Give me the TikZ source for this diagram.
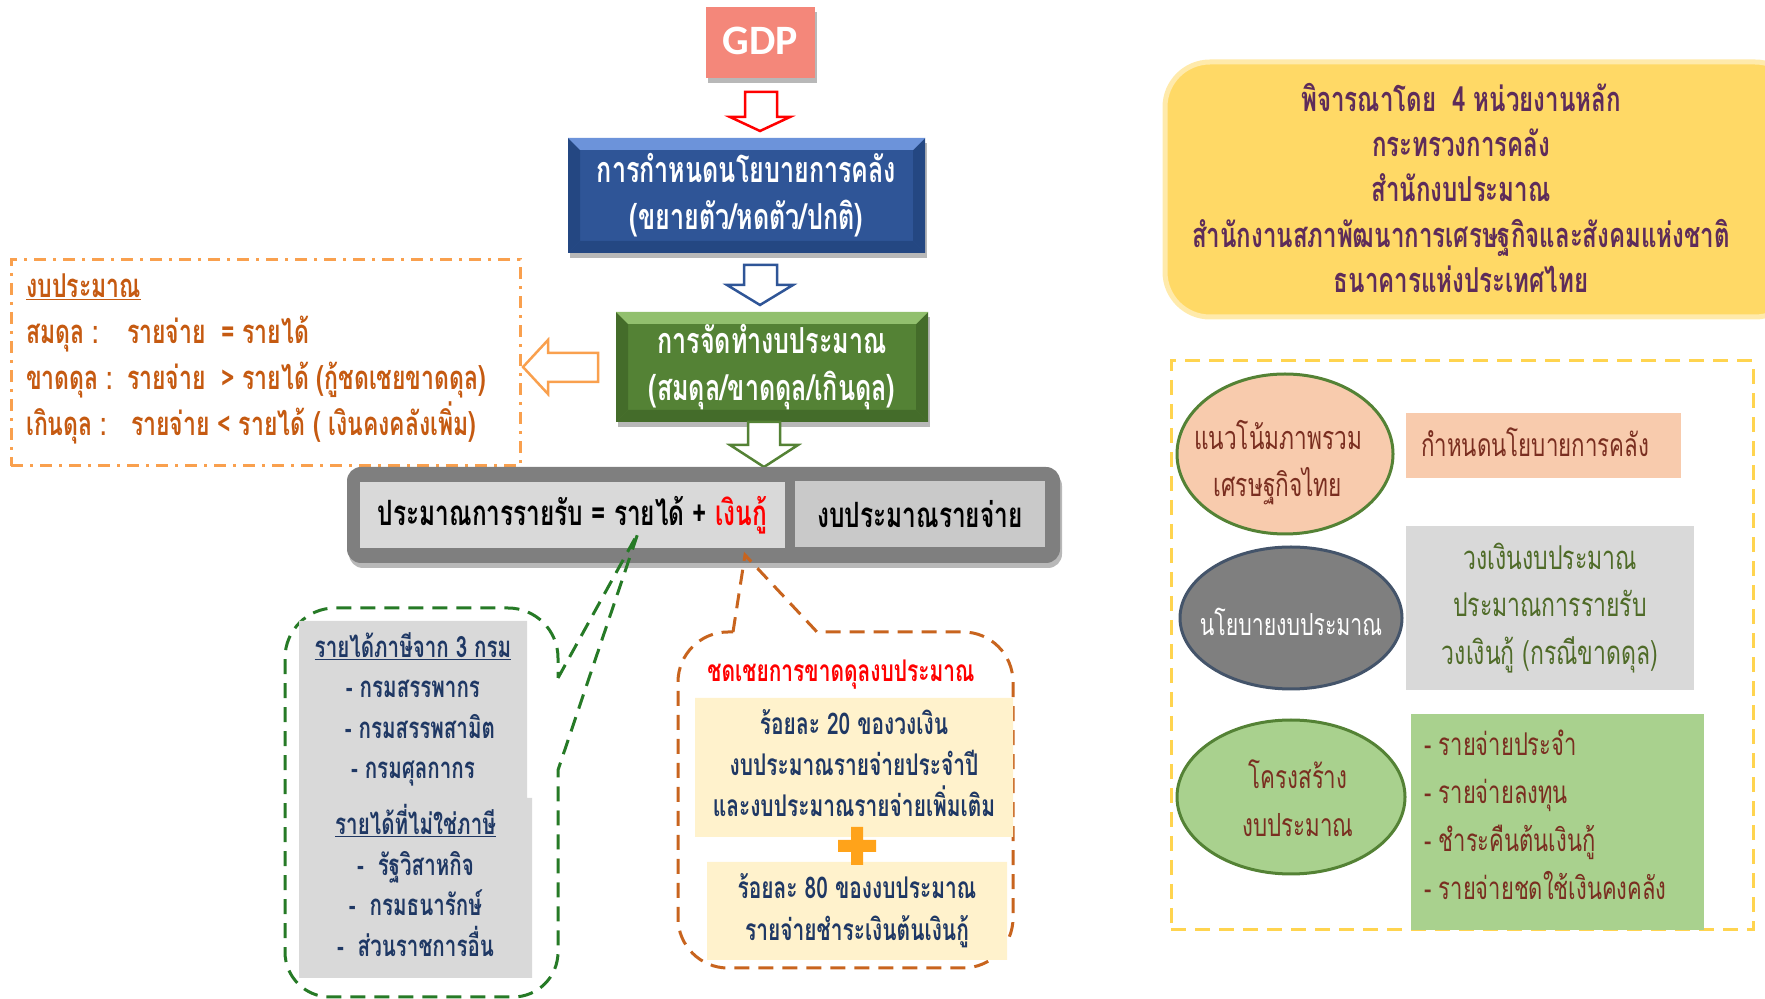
\documentclass[tikz,border=0pt]{standalone}
\usepackage{fontspec}
\newfontfamily\thaifont[Script=Thai,FakeStretch=0.7]{Loma}
\newfontfamily\latinfont{Carlito}
\usetikzlibrary{shapes.geometric,shadows}

\definecolor{gdpred}{HTML}{F4877A}
\definecolor{polblue}{HTML}{2F5597}
\definecolor{polbluelt}{HTML}{6C93DA}
\definecolor{polbluedk}{HTML}{244782}
\definecolor{budgreen}{HTML}{548235}
\definecolor{budgreenlt}{HTML}{92C06E}
\definecolor{budgreendk}{HTML}{446C2A}
\definecolor{barstone}{HTML}{7F7F7F}
\definecolor{cellgray}{HTML}{D9D9D9}
\definecolor{cellgraydk}{HTML}{C9C9C9}
\definecolor{rust}{HTML}{C55A11}
\definecolor{lightorange}{HTML}{F9A04E}
\definecolor{navy}{HTML}{1F3864}
\definecolor{callgreen}{HTML}{267A26}
\definecolor{callorange}{HTML}{C8641E}
\definecolor{cream}{HTML}{FFF2CC}
\definecolor{plusorange}{HTML}{FFA31A}
\definecolor{gold}{HTML}{FFD966}
\definecolor{golddash}{HTML}{FFD44F}
\definecolor{plum}{HTML}{5E2C5A}
\definecolor{peach}{HTML}{F8CBAD}
\definecolor{leaf}{HTML}{A9D18E}
\definecolor{slate}{HTML}{44546A}
\definecolor{maroon}{HTML}{7A2E20}
\definecolor{olive}{HTML}{4F6B28}

\tikzset{
  thai/.style 2 args={font=\thaifont\bfseries\fontsize{#1}{#2}\selectfont},
  thailt/.style 2 args={font=\thaifont\fontsize{#1}{#2}\selectfont},
  softshadow/.style={drop shadow={shadow xshift=2bp,shadow yshift=-5bp,opacity=.35,fill=black!80}},
  bevel/.style n args={3}{path picture={
    \fill[#2] (path picture bounding box.north west) -- ([shift={(#3,-#3)}]path picture bounding box.north west)
      -- ([shift={(#3,#3)}]path picture bounding box.south west) -- (path picture bounding box.south west) -- cycle;
    \fill[#2] (path picture bounding box.north east) -- ([shift={(-#3,-#3)}]path picture bounding box.north east)
      -- ([shift={(-#3,#3)}]path picture bounding box.south east) -- (path picture bounding box.south east) -- cycle;
    \fill[#2] (path picture bounding box.south west) -- (path picture bounding box.south east)
      -- ([shift={(-#3,#3)}]path picture bounding box.south east) -- ([shift={(#3,#3)}]path picture bounding box.south west) -- cycle;
    \fill[#1] (path picture bounding box.north west) -- (path picture bounding box.north east)
      -- ([shift={(-#3,-#3)}]path picture bounding box.north east) -- ([shift={(#3,-#3)}]path picture bounding box.north west) -- cycle;}},
  flowbox/.style={inner sep=0pt,text=white,align=center,softshadow,thai={36}{47}},
  cell/.style={inner sep=0pt,fill=cellgray,align=center},
  blockarrow/.style={line width=2.5bp,fill=white,line join=miter},
  dashline/.style={line width=3bp,dash pattern=on 15bp off 9bp},
  blob/.style={ellipse,line width=3bp,inner sep=0pt},
}

\begin{document}
\begin{tikzpicture}
\useasboundingbox (0bp,0bp) rectangle (1765bp,999bp);
%% flow down the middle
\node (gdp) at (760.5bp,956.5bp) [fill=gdpred,minimum width=109bp,minimum height=71bp,text=white,
  font=\latinfont\bfseries\fontsize{42}{42}\selectfont,softshadow] {\raisebox{4bp}{GDP}};
\node (policy) at (746.5bp,803.5bp) [flowbox,fill=polblue,minimum width=357bp,minimum height=115bp,
  bevel={polbluelt}{polbluedk}{12bp}] {การกำหนดนโยบายการคลัง\\(ขยายตัว/หดตัว/ปกติ)};
\node (budget) at (772bp,632bp) [flowbox,fill=budgreen,minimum width=312bp,minimum height=110bp,
  bevel={budgreenlt}{budgreendk}{12bp}] {การจัดทำงบประมาณ\\(สมดุล/ขาดดุล/เกินดุล)};
\draw [blockarrow,draw=red] (745bp,907bp) -- (777bp,907bp) -- (777bp,882bp) -- (790bp,882bp)
  -- (760bp,868bp) -- (730bp,882bp) -- (745bp,882bp) -- cycle;
\draw [blockarrow,draw=polblue] (744bp,734bp) -- (777bp,734bp) -- (777bp,714bp) -- (793bp,714bp)
  -- (760bp,694bp) -- (727bp,714bp) -- (744bp,714bp) -- cycle;
\draw [blockarrow,draw=budgreen] (748bp,577bp) -- (780bp,577bp) -- (780bp,554bp) -- (798bp,554bp)
  -- (764bp,532bp) -- (730bp,554bp) -- (748bp,554bp) -- cycle;
\draw [blockarrow,draw=lightorange] (598bp,646bp) -- (548bp,646bp) -- (548bp,659bp) -- (523bp,632bp)
  -- (548bp,605bp) -- (548bp,617bp) -- (598bp,617bp) -- cycle;
%% balance box
\node (balance) at (265.5bp,636bp) [draw=lightorange,line width=3bp,dash pattern=on 12bp off 7bp on 3bp off 7bp,
  minimum width=509bp,minimum height=206bp] {};
\node (balancetxt) at (26bp,640bp) [anchor=west,inner sep=0pt,align=left,text=rust,thai={33}{46}]
  {\underline{งบประมาณ}\\
   \makebox[101bp][l]{สมดุล :}รายจ่าย\ \ = รายได้\\
   \makebox[101bp][l]{ขาดดุล :}รายจ่าย\ \ > รายได้ (กู้ชดเชยขาดดุล)\\
   \makebox[105bp][l]{เกินดุล :}รายจ่าย < รายได้ ( เงินคงคลังเพิ่ม)};
%% revenue / expenditure bar
\node (bar) at (703.5bp,484bp) [fill=barstone,rounded corners=14bp,minimum width=713bp,minimum height=96bp,softshadow] {};
\node (revenue) at (572.5bp,484bp) [cell,minimum width=425bp,minimum height=66bp,thai={35}{36}]
  {ประมาณการรายรับ = รายได้ + \textcolor{red}{เงินกู้}};
\node (spend) at (920bp,485bp) [cell,fill=cellgraydk,minimum width=250bp,minimum height=66bp,thai={35}{36}]
  {งบประมาณรายจ่าย};
%% revenue sources callout
\draw [dashline,draw=callgreen] (558bp,321bp) -- (638bp,466bp) -- (558bp,229bp) -- (558bp,47bp)
  arc[start angle=0,end angle=-90,radius=45bp] -- (330bp,2bp)
  arc[start angle=270,end angle=180,radius=45bp] -- (285bp,341bp)
  arc[start angle=180,end angle=90,radius=50bp] -- (508bp,391bp)
  arc[start angle=90,end angle=0,radius=50bp] -- cycle;
\fill [cellgray] (299bp,201bp) rectangle (527bp,378bp) (299bp,21bp) rectangle (532bp,201bp);
\node (tax) at (413bp,289.5bp) [align=center,text=navy,thai={29.5}{40.7}]
  {\underline{รายได้ภาษีจาก 3 กรม}\\- กรมสรรพากร\\\ \ - กรมสรรพสามิต\\- กรมศุลกากร};
\node (nontax) at (415.5bp,118.5bp) [align=center,text=navy,thai={29.5}{40.7}]
  {\underline{รายได้ที่ไม่ใช่ภาษี}\\-\ \ รัฐวิสาหกิจ\\-\ \ กรมธนารักษ์\\-\ \ ส่วนราชการอื่น};
%% deficit callout
\draw [dashline,draw=callorange] (733bp,367bp) -- (745bp,444bp) -- (817bp,367bp) -- (963bp,367bp)
  arc[start angle=90,end angle=0,radius=50bp] -- (1013bp,81bp)
  arc[start angle=0,end angle=-90,radius=50bp] -- (728bp,31bp)
  arc[start angle=270,end angle=180,radius=50bp] -- (678bp,317bp)
  arc[start angle=180,end angle=90,radius=50bp] -- cycle;
\node (deficit) at (841bp,324bp) [text=red,thai={30}{32}] {ชดเชยการขาดดุลงบประมาณ};
\fill [cream] (695bp,162bp) rectangle (1013bp,301bp) (707bp,39bp) rectangle (1007bp,137bp);
\node (share20) at (854bp,236bp) [align=center,text=navy,thai={30}{41}]
  {ร้อยละ 20 ของวงเงิน\\งบประมาณรายจ่ายประจำปี\\และงบประมาณรายจ่ายเพิ่มเติม};
\node (share80) at (857bp,88bp) [align=center,text=navy,thai={30}{42}]
  {ร้อยละ 80 ของงบประมาณ\\รายจ่ายชำระเงินต้นเงินกู้};
\fill [plusorange] (838bp,147bp) rectangle (876bp,159bp) (851bp,134bp) rectangle (863bp,172bp);
%% agencies
\node (agencies) at (1482.5bp,809.5bp) [fill=gold,draw=gold!55,line width=5bp,rounded corners=45bp,
  minimum width=635bp,minimum height=255bp] {};
\node (agencytxt) at (1461bp,811bp) [align=center,text=plum,thai={34.5}{45.5}]
  {พิจารณาโดย\ \ 4 หน่วยงานหลัก\\กระทรวงการคลัง\\สำนักงบประมาณ\\สำนักงานสภาพัฒนาการเศรษฐกิจและสังคมแห่งชาติ\\ธนาคารแห่งประเทศไทย};
%% budget framework panel
\node (panel) at (1462bp,353.5bp) [draw=golddash,dashline,minimum width=582bp,minimum height=569bp] {};
\node (trend) at (1285bp,545bp) [blob,fill=peach,draw=budgreen,minimum width=216bp,minimum height=160bp] {};
\node (trendtxt) at (1278bp,536bp) [align=center,text=maroon,thailt={32.5}{47}] {แนวโน้มภาพรวม\\เศรษฐกิจไทย};
\node (fiscal) at (1543.5bp,553.5bp) [fill=peach,inner xsep=15bp,text width=245bp,minimum height=65bp,
  align=left,text=maroon,thailt={32}{34}] {\raisebox{6bp}{กำหนดนโยบายการคลัง}};
\node (bpolicy) at (1291bp,381bp) [blob,fill=barstone,draw=slate,minimum width=222bp,minimum height=142bp] {};
\node (bpolicytxt) at (1291bp,377bp) [text=white,thailt={30.5}{32}] {นโยบายงบประมาณ};
\node (ceiling) at (1550bp,391bp) [cell,minimum width=288bp,minimum height=164bp,text=olive,thailt={33}{48}]
  {วงเงินงบประมาณ\\ประมาณการรายรับ\\วงเงินกู้ (กรณีขาดดุล)};
\node (structure) at (1291bp,202bp) [blob,fill=leaf,draw=budgreen,minimum width=228bp,minimum height=154bp] {};
\node (structuretxt) at (1298bp,201bp) [align=center,text=maroon,thailt={32}{48}] {โครงสร้าง\\งบประมาณ};
\fill [leaf] (1411bp,69bp) rectangle (1704bp,285bp);
\node (items) at (1424bp,184bp) [anchor=west,inner sep=0pt,align=left,text=maroon,thailt={31.5}{48}]
  {- รายจ่ายประจำ\\- รายจ่ายลงทุน\\- ชำระคืนต้นเงินกู้\\- รายจ่ายชดใช้เงินคงคลัง};
\end{tikzpicture}
\end{document}
